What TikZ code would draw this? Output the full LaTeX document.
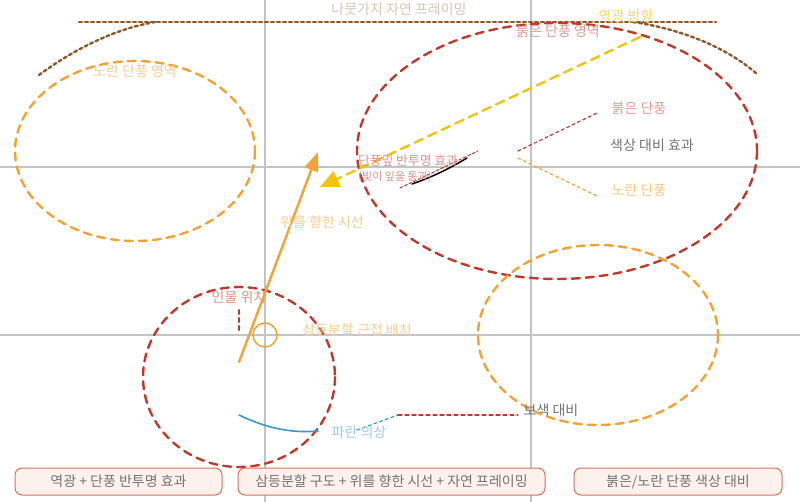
\documentclass[tikz,border=0pt]{standalone}
\usepackage{fontspec}
\setmainfont{Noto Sans CJK KR}
\usetikzlibrary{arrows.meta}
\definecolor{gridgray}{HTML}{C4C4C4}
\definecolor{branch}{HTML}{8B5A2B}
\definecolor{maple}{HTML}{F4A236}
\definecolor{crimson}{HTML}{C0392B}
\definecolor{sunlight}{HTML}{F1C40F}
\definecolor{cloth}{HTML}{3498DB}
\definecolor{boxline}{HTML}{D9705A}
\definecolor{boxfill}{HTML}{FDF1EE}
\begin{document}
\begin{tikzpicture}[x=1pt,y=-1pt, line join = round, line cap = round, font=\fontsize{14}{16}\selectfont]
            \tikzset{zone/.style={line width=2.4pt, dash pattern=on 8pt off 6pt},
                     hint/.style={line width=1.2pt, dash pattern=on 3pt off 3pt},
                     sumbox/.style={draw=boxline, fill=boxfill, rounded corners=7pt, line width=1pt,
                       minimum height=27pt, text=black!55, inner sep=0pt, font=\fontsize{14}{16}\selectfont}}
            \useasboundingbox (0,0) rectangle (800,502);
            % thirds grid
            \draw[gridgray, line width=1.3pt] (265,0)--(265,502) (531,0)--(531,502)
                 (0,167)--(800,167) (0,335)--(800,335);
            % branch framing
            \draw[branch, line width=2.4pt, dash pattern=on 3pt off 3pt] (79,22)--(716,22);
            \draw[branch, line width=2.4pt, dash pattern=on 3pt off 3pt]
                 (39,75) .. controls (80,45) and (120,28) .. (155,22);
            \draw[branch, line width=2.4pt, dash pattern=on 3pt off 3pt]
                 (633,22) .. controls (675,28) and (725,45) .. (758,75);
            \node[text=branch!35] (title) at (399,9) {나뭇가지 자연 프레이밍};
            % leaf zones
            \draw[maple, zone] (135,151) ellipse (120 and 90);
            \node[text=maple!55] (yellowzone) at (135,71) {노란 단풍 영역};
            \draw[crimson, zone] (557,151) ellipse (200 and 128);
            \node[text=crimson!50] (redzone) at (558,31) {붉은 단풍 영역};
            \draw[maple, zone] (598,335) ellipse (120 and 90);
            % backlight
            \node[text=sunlight!65] (backlight) at (626,16) {역광 방향};
            \coordinate (sun) at (640,37);
            \coordinate (sunend) at (320,187);
            \draw[sunlight, line width=2.4pt, dash pattern=on 9pt off 6pt,
                 -{Triangle[length=19pt,width=17pt]}] (sun)--(sunend);
            % translucent leaf
            \draw[black, line width=1.5pt] (412,184) .. controls (435,176) and (450,168) .. (467,158);
            \draw[crimson, line width=1pt, dash pattern=on 3pt off 2pt] (400,188)--(478,151);
            \node[text=crimson!55, font=\fontsize{12.8}{14}\selectfont] (translucent) at (408,161) {단풍잎 반투명 효과};
            \node[text=crimson!55, font=\fontsize{11}{12}\selectfont] (through) at (395,177) {(빛이 잎을 통과)};
            % colour contrast
            \node[text=crimson!50] (redleaf) at (639,108) {붉은 단풍};
            \node[text=black!55] (contrast) at (652,145) {색상 대비 효과};
            \node[text=maple!60] (yellowleaf) at (639,190) {노란 단풍};
            \draw[crimson, hint] (518,151)--(597,113);
            \draw[maple, hint] (518,158)--(597,196);
            % person
            \draw[crimson, zone] (239,377) ellipse (96 and 90);
            \node[text=crimson!55] (person) at (239,297) {인물 위치};
            \draw[crimson, line width=2.4pt, dash pattern=on 4pt off 4pt] (239,310)--(239,332);
            \node[draw=maple, circle, line width=1.5pt, minimum size=24pt, inner sep=0pt] (point) at (265,335) {};
            \node[text=maple!55] (thirds) at (357,330) {삼등분할 근접 배치};
            % gaze
            \coordinate (eye) at (239,362);
            \coordinate (sky) at (318,152);
            \draw[maple, line width=2.4pt, -{Triangle[length=19pt,width=14pt]}] (eye)--(sky);
            \node[text=maple!55] (gaze) at (322,222) {위를 향한 시선};
            % blue clothes
            \draw[cloth, line width=1.6pt] (239,415) .. controls (270,430) and (295,433) .. (318,431);
            \draw[cloth, hint] (357,430)--(398,415);
            \draw[crimson, line width=1.2pt, dash pattern=on 4pt off 3pt] (398,415)--(518,415);
            \node[text=cloth!50] (blue) at (359,432) {파란 의상};
            \node[text=black!55] (complement) at (551,410) {보색 대비};
            % summary boxes
            \node[sumbox, minimum width=207pt] (sum1) at (118.5,481.5) {역광 + 단풍 반투명 효과};
            \node[sumbox, minimum width=307pt] (sum2) at (391.5,481.5) {삼등분할 구도 + 위를 향한 시선 + 자연 프레이밍};
            \node[sumbox, minimum width=208pt] (sum3) at (678,481.5) {붉은/노란 단풍 색상 대비};
        \end{tikzpicture}
\end{document}
